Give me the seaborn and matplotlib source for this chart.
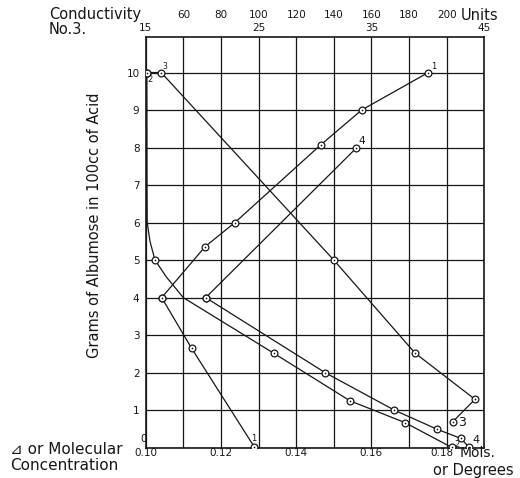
import numpy as np
import pandas as pd
import seaborn as sns
import matplotlib
matplotlib.use("Agg")
import matplotlib.pyplot as plt
from matplotlib.transforms import ScaledTranslation

# ---- data -------------------------------------------------------------
# Grams of albumose per 100 cc of acid (shared vertical scale)
y_ticks = [0, 1, 2, 3, 4, 5, 6, 7, 8, 9, 10]
y_labels = ["0", "1", "2", "3", "4", "5", "6", "7", "8", "9", "10"]

# Bottom scale: molecular concentration / freezing-point depression
mol_ticks = [0.10, 0.11, 0.12, 0.13, 0.14, 0.15, 0.16, 0.17, 0.18, 0.19]
mol_labels = ["0.10", "", "0.12", "", "0.14", "", "0.16", "", "0.18", ""]

# Top scales: conductivity (units) and conductivity of No. 3
cond_ticks = [40, 60, 80, 100, 120, 140, 160, 180, 200, 220]
cond_labels = ["", "60", "80", "100", "120", "140", "160", "180", "200", ""]
no3_ticks = [15, 25, 35, 45]
no3_labels = ["15", "25", "35", "45"]

# Solution 1: conductivity branch and depression branch
cond_1_x = [48.5, 71.6, 87.4, 133.0, 154.8, 190.2]
cond_1_y = [4.0, 5.36, 6.0, 8.07, 9.0, 10.0]
delta_1_x = [0.10425, 0.1122, 0.1288]
delta_1_y = [4.0, 2.65, 0.03]

# Solution 2: depression curve
delta_2_x = [0.1003, 0.10035, 0.1004, 0.10114, 0.10247, 0.1055, 0.110,
             0.134, 0.1543, 0.1689, 0.1813]
delta_2_y = [10.0, 7.0, 6.0, 5.5, 5.0, 4.55, 4.0, 2.52, 1.25, 0.67, 0.01]
delta_2_observed = [True, False, False, False, True, False, False,
                    True, True, True, True]

# Solution 3: conductivity on the No. 3 scale
no3_x = [15.1, 16.37, 31.67, 38.87, 44.17, 42.2]
no3_y = [10.0, 10.0, 5.0, 2.52, 1.29, 0.69]

# Solution 4: conductivity branch and depression branch
cond_4_x = [71.9, 151.8]
cond_4_y = [4.0, 7.98]
delta_4_x = [0.11595, 0.1477, 0.1661, 0.1775, 0.1837, 0.186]
delta_4_y = [4.0, 2.0, 1.0, 0.49, 0.25, 0.01]

# ---- figure -----------------------------------------------------------
sns.set_theme(style="white")
plt.rcParams["font.family"] = ["DejaVu Sans"]
W, H = 520, 478
fig = plt.figure(figsize=(W / 100, H / 100), dpi=100)
fig.patch.set_facecolor("white")

ax = fig.add_axes([145.7 / W, 1 - 447.7 / H, 338.6 / W, 411.2 / H])
ax_c = ax.twiny()
ax_3 = ax.twiny()

INK = "#161616"
LINE_KW = dict(color=INK, linewidth=0.9, sort=False, estimator=None)


def draw(axis, xs, ys, marks=None):
    sns.lineplot(x=xs, y=ys, ax=axis, **LINE_KW)
    if marks is not None:
        xs = [x for x, m in zip(xs, marks) if m]
        ys = [y for y, m in zip(ys, marks) if m]
    sns.scatterplot(x=xs, y=ys, ax=axis, marker="o", s=24, facecolor="white",
                    edgecolor=INK, linewidth=0.9, zorder=5)
    sns.scatterplot(x=xs, y=ys, ax=axis, marker="o", s=1.5, color=INK,
                    linewidth=0, zorder=6)


draw(ax, delta_1_x, delta_1_y)
draw(ax, delta_2_x, delta_2_y, delta_2_observed)
draw(ax, delta_4_x, delta_4_y)
draw(ax_c, cond_1_x, cond_1_y)
draw(ax_c, cond_4_x, cond_4_y)
draw(ax_3, no3_x, no3_y)

# scales
ax.set_xlim(0.10, 0.19)
ax.set_ylim(0, 10.96)
ax_c.set_xlim(40, 220)
ax_3.set_xlim(15, 45)

ax.set_xticks(mol_ticks)
ax.set_xticklabels(mol_labels)
ax.set_yticks(y_ticks)
ax.set_yticklabels(y_labels)
ax.tick_params(axis="x", length=0, pad=0.3, labelsize=7.5, colors=INK)
ax.tick_params(axis="y", length=0, pad=4.5, labelsize=7.5, colors=INK)
ax.grid(True, color=INK, linewidth=0.9)
ax.set_axisbelow(True)
for s in ax.spines.values():
    s.set_color(INK)
    s.set_linewidth(1.2)

ax_c.set_xticks(cond_ticks)
ax_c.set_xticklabels(cond_labels)
ax_c.tick_params(axis="x", length=0, pad=12, labelsize=7.5, colors=INK)
ax_3.set_xticks(no3_ticks)
ax_3.set_xticklabels(no3_labels)
ax_3.tick_params(axis="x", length=0, pad=2.2, labelsize=7.5, colors=INK)
for a in (ax_c, ax_3):
    a.grid(False)
    for s in a.spines.values():
        s.set_visible(False)
    a.set_xlabel("")
    a.set_ylabel("")
ax.set_xlabel("")
ax.set_ylabel("Grams of Albumose in 100cc of Acid", fontsize=10.5, color=INK)
ax.yaxis.set_label_coords(-0.129, 0.5416)


def nudge(label, dx, dy):
    label.set_transform(label.get_transform() +
                        ScaledTranslation(dx / 72, dy / 72, fig.dpi_scale_trans))


# the zero label sits up against the corner, 0.18 clears the unit caption
nudge(ax.get_yticklabels()[0], 5, 7)
nudge(ax.get_xticklabels()[8], -3.5, 0)


# curve numbers
def tag(axis, txt, x, y, dx, dy, size):
    axis.annotate(txt, xy=(x, y), xytext=(dx, dy), textcoords="offset points",
                  fontsize=size, color=INK, ha="center", va="center")


tag(ax_c, "1", cond_1_x[-1], cond_1_y[-1], 4, 4.5, 6)
tag(ax_c, "4", cond_4_x[-1], cond_4_y[-1], 4, 5, 7.5)
tag(ax_3, "3", no3_x[1], no3_y[1], 3, 4.5, 5.5)
tag(ax, "2", delta_2_x[0], delta_2_y[0], 2, -5, 6)
tag(ax, "1", delta_1_x[-1], delta_1_y[-1], 0, 6, 6)
tag(ax_3, "3", no3_x[-1], no3_y[-1], 6.5, -0.5, 9)
tag(ax, "2", delta_2_x[-1], delta_2_y[-1], 3.8, 2.2, 6)
tag(ax, "4", delta_4_x[-1], delta_4_y[-1], 5, 5, 8)


# scale captions
def ftext(x, y, txt, size, ha="left"):
    fig.text(x / W, 1 - y / H, txt, fontsize=size, color=INK, ha=ha,
             va="center")


ftext(49, 15, "Conductivity", 10.5)
ftext(49, 29, "No.3.", 10.5)
ftext(461, 15, "Units", 10.5)
ftext(460, 453, "Mols.", 10)
ftext(433, 470, "or Degrees", 10.5)
ftext(10, 450, "⊿ or Molecular", 11)
ftext(10, 466, "Concentration", 11)

fig.savefig("out.png", dpi=100, facecolor="white")
